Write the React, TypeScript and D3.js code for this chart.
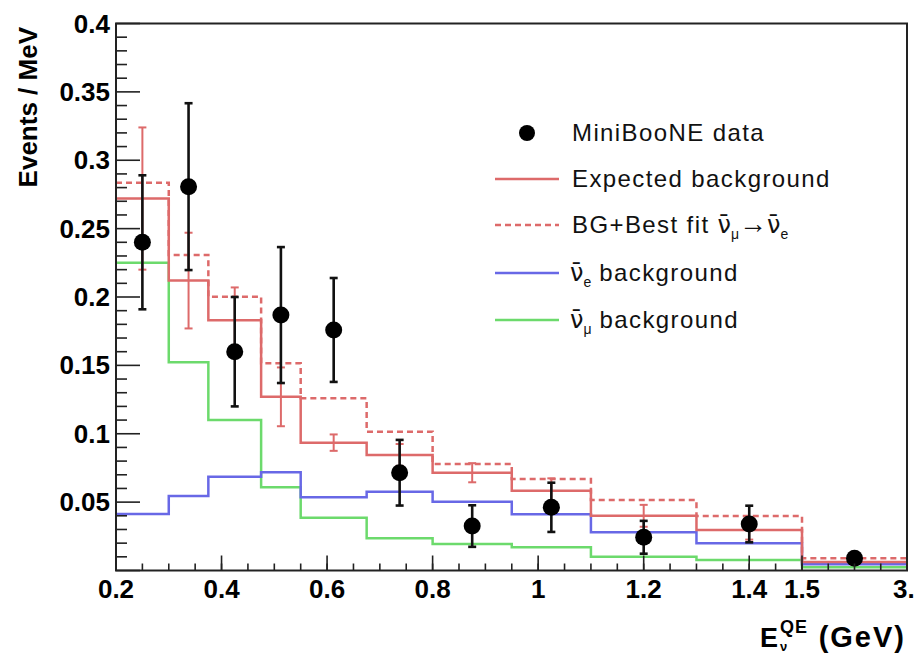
import * as d3 from "d3";

// Bins in E_nu^QE (GeV)
const binEdges = [0.2, 0.3, 0.375, 0.475, 0.55, 0.675, 0.8, 0.95, 1.1, 1.3, 1.5, 3.0];

// Events / MeV per bin
const expectedBg = [0.272, 0.212, 0.183, 0.127, 0.0935, 0.0845, 0.0715, 0.0584, 0.04, 0.0296, 0.0062];
const expectedErr = [0.052, 0.035, 0.024, 0.0215, 0.006, 0.008, 0.007, 0.009, 0.008, 0.007, 0.002];
const bestFit = [0.2836, 0.2307, 0.2002, 0.1515, 0.1259, 0.1015, 0.0779, 0.0669, 0.0516, 0.0399, 0.0089];
const nueBg = [0.0413, 0.0545, 0.0686, 0.0718, 0.0535, 0.0576, 0.0503, 0.0411, 0.028, 0.0199, 0.0045];
const numuBg = [0.2251, 0.1522, 0.1101, 0.0608, 0.0385, 0.0235, 0.0194, 0.017, 0.0101, 0.0077, 0.0023];
const dataVals = [0.24, 0.2807, 0.16, 0.1868, 0.1759, 0.0715, 0.0325, 0.0462, 0.0243, 0.034, 0.0089];
const dataErr = [0.049, 0.061, 0.04, 0.0497, 0.038, 0.024, 0.0152, 0.018, 0.012, 0.0134, 0.002];

// Axis ticks
const xTickValues = [0.2, 0.4, 0.6, 0.8, 1.0, 1.2, 1.4, 1.5, 3.0];
const xTickLabels = ["0.2", "0.4", "0.6", "0.8", "1", "1.2", "1.4", "1.5", "3."];
const xTailTicks = [1.875, 2.25, 2.625];
const yTickValues = [0.05, 0.1, 0.15, 0.2, 0.25, 0.3, 0.35, 0.4];
const yTickLabels = ["0.05", "0.1", "0.15", "0.2", "0.25", "0.3", "0.35", "0.4"];

const W = 917;
const H = 655;
const FONT = "'Liberation Sans', Arial, Helvetica, sans-serif";
const NU_FONT = "'DejaVu Sans', sans-serif";
const RED = "#dd6a6a";
const BLUE = "#6868e6";
const GREEN = "#6cda6c";

// x axis is linear up to 1.5 GeV, then the last bin is squeezed
const x = d3.scaleLinear().domain([0.2, 1.5, 3.0]).range([116, 802, 907]);
const y = d3.scaleLinear().domain([0, 0.4]).range([570.5, 23.5]);

const centers = binEdges.slice(0, -1).map((e, i) => (e + binEdges[i + 1]) / 2);

function stepPath(vals: number[]) {
  const pts: [number, number][] = vals.map((v, i) => [binEdges[i], v]);
  pts.push([binEdges[binEdges.length - 1], vals[vals.length - 1]]);
  return d3
    .line<[number, number]>()
    .x((d) => x(d[0]))
    .y((d) => y(d[1]))
    .curve(d3.curveStepAfter)(pts) as string;
}

function ErrorBars({ vals, errs, color, width }: { vals: number[]; errs: number[]; color: string; width: number }) {
  return (
    <g stroke={color} strokeWidth={width}>
      {vals.map((v, i) => {
        const cx = x(centers[i]);
        return (
          <g key={i}>
            <line x1={cx} x2={cx} y1={y(v + errs[i])} y2={y(v - errs[i])} />
            <line x1={cx - 4} x2={cx + 4} y1={y(v + errs[i])} y2={y(v + errs[i])} />
            <line x1={cx - 4} x2={cx + 4} y1={y(v - errs[i])} y2={y(v - errs[i])} />
          </g>
        );
      })}
    </g>
  );
}

const NUBAR = "\u03bd\u0304";

export default function App() {
  const xMinor = d3.range(0.2, 1.5 + 1e-9, 0.05).concat(xTailTicks);
  const yMinor = d3.range(0, 0.4 + 1e-9, 0.01);
  const legendRows = [133, 179, 225, 273, 320];
  const lx1 = 495;
  const lx2 = 559;
  const tx = 572;

  return (
    <div style={{ position: "absolute", left: 0, top: 0 }}>
      <svg width={W} height={H} style={{ display: "block", background: "#fff" }} fontFamily={FONT}>
        {/* histograms */}
        <g fill="none" strokeWidth={2.5}>
          <path d={stepPath(numuBg)} stroke={GREEN} />
          <path d={stepPath(nueBg)} stroke={BLUE} />
          <path d={stepPath(bestFit)} stroke={RED} strokeDasharray="6,4" />
          <path d={stepPath(expectedBg)} stroke={RED} />
        </g>
        <ErrorBars vals={expectedBg} errs={expectedErr} color={RED} width={2} />

        {/* data */}
        <ErrorBars vals={dataVals} errs={dataErr} color="#111" width={2.6} />
        {dataVals.map((v, i) => (
          <circle key={i} cx={x(centers[i])} cy={y(v)} r={8.5} fill="#000" />
        ))}

        {/* frame */}
        <rect x={116} y={23.5} width={907 - 116} height={570.5 - 23.5} fill="none" stroke="#222" strokeWidth={2} />

        {/* y ticks */}
        <g stroke="#222" strokeWidth={1.6}>
          {yMinor.map((v, i) => {
            const major = i % 5 === 0;
            return <line key={i} x1={116} x2={116 + (major ? 24 : 11)} y1={y(v)} y2={y(v)} />;
          })}
        </g>
        <g fontSize={26} fontWeight="bold" textAnchor="end" fill="#000">
          {yTickValues.map((v, i) => (
            <text key={i} x={110} y={y(v)} dominantBaseline="central">
              {yTickLabels[i]}
            </text>
          ))}
        </g>

        {/* x ticks */}
        <g stroke="#222" strokeWidth={1.6}>
          {xMinor.map((v, i) => (
            <line key={i} x1={x(v)} x2={x(v)} y1={570.5} y2={570.5 - 7} />
          ))}
          {xTickValues.slice(0, -1).map((v, i) => (
            <line key={"M" + i} x1={x(v)} x2={x(v)} y1={570.5} y2={570.5 - 15} />
          ))}
        </g>
        <g fontSize={26} fontWeight="bold" textAnchor="middle" fill="#000">
          {xTickValues.map((v, i) =>
            i === xTickValues.length - 1 ? (
              <text key={i} x={x(v) - 14} y={598} textAnchor="start">
                {xTickLabels[i]}
              </text>
            ) : (
              <text key={i} x={x(v)} y={598}>
                {xTickLabels[i]}
              </text>
            )
          )}
        </g>

        {/* axis titles */}
        <text transform="translate(37,27) rotate(-90)" textAnchor="end" fontSize={26} fontWeight="bold">
          Events / MeV
        </text>
        <g fontWeight="bold" fill="#000">
          <text x={760} y={647} fontSize={27}>E</text>
          <text x={780} y={633} fontSize={18} letterSpacing={1}>QE</text>
          <text x={780} y={651} fontSize={13}>{"\u03bd"}</text>
          <text x={906} y={647} fontSize={29} textAnchor="end" letterSpacing={2}>(GeV)</text>
        </g>

        {/* legend */}
        <circle cx={527} cy={legendRows[0]} r={8} fill="#000" />
        <line x1={lx1} x2={lx2} y1={legendRows[1]} y2={legendRows[1]} stroke={RED} strokeWidth={2.5} />
        <line x1={lx1} x2={lx2} y1={legendRows[2]} y2={legendRows[2]} stroke={RED} strokeWidth={2.5} strokeDasharray="6,4" />
        <line x1={lx1} x2={lx2} y1={legendRows[3]} y2={legendRows[3]} stroke={BLUE} strokeWidth={2.5} />
        <line x1={lx1} x2={lx2} y1={legendRows[4]} y2={legendRows[4]} stroke={GREEN} strokeWidth={2.5} />
        <g fontSize={24} letterSpacing={1.4} fill="#111">
          <text x={tx} y={legendRows[0] + 8}>MiniBooNE data</text>
          <text x={tx} y={legendRows[1] + 8}>Expected background</text>
          <text x={tx} y={legendRows[2] + 8}>
            {"BG+Best fit "}
            <tspan fontFamily={NU_FONT} letterSpacing={0}>{NUBAR}</tspan>
            <tspan fontSize={14} dy={6} letterSpacing={0}>{"\u03bc"}</tspan>
            <tspan dy={-6} fontSize={28} letterSpacing={0}>{"\u2192"}</tspan>
            <tspan fontFamily={NU_FONT} letterSpacing={0}>{NUBAR}</tspan>
            <tspan fontSize={14} dy={6} letterSpacing={0}>e</tspan>
          </text>
          <text x={tx - 2} y={legendRows[3] + 8}>
            <tspan fontFamily={NU_FONT} letterSpacing={0}>{NUBAR}</tspan>
            <tspan fontSize={14} dy={6} letterSpacing={0}>e</tspan>
            <tspan dy={-6}>{" background"}</tspan>
          </text>
          <text x={tx - 2} y={legendRows[4] + 8}>
            <tspan fontFamily={NU_FONT} letterSpacing={0}>{NUBAR}</tspan>
            <tspan fontSize={14} dy={6} letterSpacing={0}>{"\u03bc"}</tspan>
            <tspan dy={-6}>{" background"}</tspan>
          </text>
        </g>
      </svg>
    </div>
  );
}
